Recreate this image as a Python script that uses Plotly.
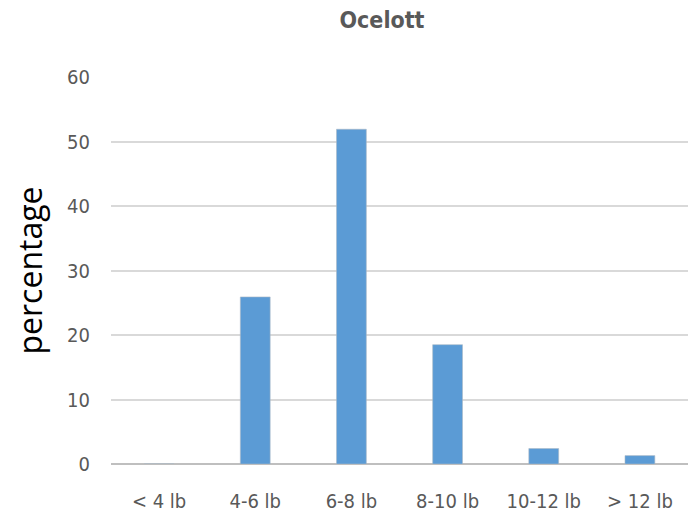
import plotly.graph_objects as go

categories = ["< 4 lb", "4-6 lb", "6-8 lb", "8-10 lb", "10-12 lb", "> 12 lb"]
values = [0, 25.9, 51.9, 18.5, 2.4, 1.3]
y_ticks = [0, 10, 20, 30, 40, 50, 60]

FONT = "DejaVu Sans Condensed, Liberation Sans Narrow, Liberation Sans"

fig = go.Figure(go.Bar(
    x=categories, y=values,
    marker=dict(color="#5B9BD5", line=dict(color="#A9B8C6", width=0.6)),
))

W, H = 692, 517
fig.update_layout(
    width=W, height=H,
    margin=dict(l=103, r=12, t=69, b=61, autoexpand=False),
    plot_bgcolor="white", paper_bgcolor="white",
    bargap=0.69,
    showlegend=False,
    title=dict(text="<b>Ocelott</b>", x=374/W, xanchor="center", y=1-12/H, yanchor="middle",
               font=dict(family=FONT, size=23, color="#595959")),
    font=dict(family=FONT, color="#595959"),
)
fig.update_yaxes(
    range=[0, 60], tickvals=y_ticks, showgrid=True, gridcolor="#D9D9D9", gridwidth=2,
    zeroline=True, zerolinecolor="#BFBFBF", zerolinewidth=2,
    tickfont=dict(size=20, color="#595959"), ticklabelstandoff=20, automargin=False,
    title=dict(text="percentage", font=dict(family="Open Sans", size=32, color="black"), standoff=18),
    fixedrange=True,
)
fig.update_xaxes(
    showline=False, tickfont=dict(size=20, color="#595959"), ticklabelstandoff=23, automargin=False,
)
fig.write_html("out.html")
